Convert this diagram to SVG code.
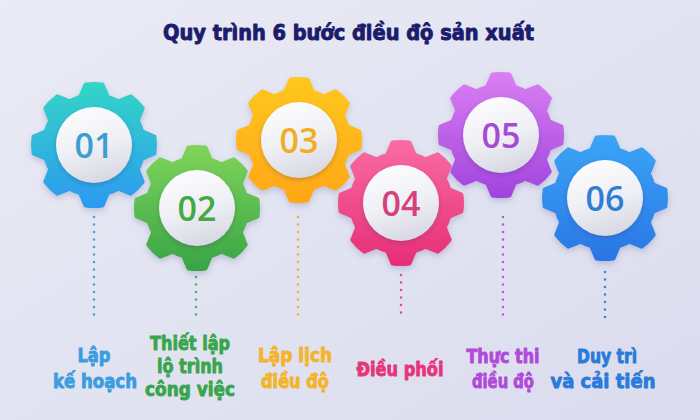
<svg xmlns="http://www.w3.org/2000/svg" xmlns:xlink="http://www.w3.org/1999/xlink" width="700" height="420" viewBox="0 0 700 420">
<defs>
<style>
.title{font-family:"DejaVu Sans Condensed","DejaVu Sans",sans-serif;font-weight:bold;font-size:22px;fill:#1c1c6c;stroke:#1c1c6c;stroke-width:0.9;stroke-linejoin:round}
.lbl{font-family:"DejaVu Sans Condensed","DejaVu Sans",sans-serif;font-weight:bold;font-size:19px;text-anchor:middle;stroke-width:0.8;stroke-linejoin:round}
.num{font-family:"Open Sans","Noto Sans",sans-serif;font-weight:600;font-size:34px;text-anchor:middle}
.dots{fill:none;stroke-width:2.6;stroke-linecap:round;stroke-dasharray:0 7.5}
.gear{stroke-width:4;stroke-linejoin:round;filter:url(#shadow)}
.hub{fill:url(#hubg);filter:url(#hubsh)}
</style>
<linearGradient id="bg" x1="0" y1="0" x2="1" y2="1">
<stop offset="0" stop-color="#eaebf5"/><stop offset="1" stop-color="#dadcee"/>
</linearGradient>
<linearGradient id="g1" x1="0" y1="0" x2="0" y2="1"><stop offset="0" stop-color="#33d5c6"/><stop offset="1" stop-color="#2c9af0"/></linearGradient>
<linearGradient id="g2" x1="0" y1="0" x2="0" y2="1"><stop offset="0" stop-color="#7fd45a"/><stop offset="1" stop-color="#38a545"/></linearGradient>
<linearGradient id="g3" x1="0" y1="0" x2="0" y2="1"><stop offset="0" stop-color="#ffc71d"/><stop offset="1" stop-color="#ffa718"/></linearGradient>
<linearGradient id="g4" x1="0" y1="0" x2="0" y2="1"><stop offset="0" stop-color="#f86ca2"/><stop offset="1" stop-color="#e72e77"/></linearGradient>
<linearGradient id="g5" x1="0" y1="0" x2="0" y2="1"><stop offset="0" stop-color="#d97ef2"/><stop offset="1" stop-color="#a244de"/></linearGradient>
<linearGradient id="g6" x1="0" y1="0" x2="0" y2="1"><stop offset="0" stop-color="#3aa5f6"/><stop offset="1" stop-color="#2a76e4"/></linearGradient>
<linearGradient id="hubg" x1="0.3" y1="0" x2="0.6" y2="1"><stop offset="0" stop-color="#fdfdfe"/><stop offset="0.55" stop-color="#eeeff4"/><stop offset="1" stop-color="#d6d7e2"/></linearGradient>
<filter id="shadow" x="-20%" y="-20%" width="140%" height="150%"><feDropShadow dx="0" dy="3" stdDeviation="3" flood-color="#6a6a9a" flood-opacity="0.3"/></filter>
<filter id="hubsh" x="-20%" y="-20%" width="140%" height="150%"><feDropShadow dx="0" dy="2" stdDeviation="2" flood-color="#303060" flood-opacity="0.25"/></filter>
<path id="gearShape" d="M-13.78,-48.07 L-8.49,-60.41 A61,61 0 0 1 8.49,-60.41 L13.78,-48.07 A50,50 0 0 1 24.24,-43.73 L36.71,-48.71 A61,61 0 0 1 48.71,-36.71 L43.73,-24.24 A50,50 0 0 1 48.07,-13.78 L60.41,-8.49 A61,61 0 0 1 60.41,8.49 L48.07,13.78 A50,50 0 0 1 43.73,24.24 L48.71,36.71 A61,61 0 0 1 36.71,48.71 L24.24,43.73 A50,50 0 0 1 13.78,48.07 L8.49,60.41 A61,61 0 0 1 -8.49,60.41 L-13.78,48.07 A50,50 0 0 1 -24.24,43.73 L-36.71,48.71 A61,61 0 0 1 -48.71,36.71 L-43.73,24.24 A50,50 0 0 1 -48.07,13.78 L-60.41,8.49 A61,61 0 0 1 -60.41,-8.49 L-48.07,-13.78 A50,50 0 0 1 -43.73,-24.24 L-48.71,-36.71 A61,61 0 0 1 -36.71,-48.71 L-24.24,-43.73 A50,50 0 0 1 -13.78,-48.07 Z"/>
</defs>
<rect width="700" height="420" fill="url(#bg)"/>
<text class="title" x="163" y="40" textLength="371" lengthAdjust="spacingAndGlyphs">Quy trình 6 bước điều độ sản xuất</text>

<g id="connectors">
<line class="dots" x1="94" y1="217" x2="94" y2="318" stroke="#4b9fd2"/>
<line class="dots" x1="196" y1="277" x2="196" y2="318" stroke="#5aa86a"/>
<line class="dots" x1="298" y1="217" x2="298" y2="318" stroke="#efb03c"/>
<line class="dots" x1="401" y1="275" x2="401" y2="318" stroke="#df4f8a"/>
<line class="dots" x1="503" y1="217" x2="503" y2="318" stroke="#b060d8"/>
<line class="dots" x1="605" y1="272" x2="605" y2="318" stroke="#3a80d8"/>
</g>

<g id="step1">
<use xlink:href="#gearShape" href="#gearShape" class="gear" transform="translate(94,145)" fill="url(#g1)" stroke="url(#g1)"/>
<circle class="hub" cx="94" cy="145" r="38"/>
<text class="num" x="94" y="158" fill="#3a9fd0">01</text>
<text class="lbl" fill="#3a9de0" stroke="#3a9de0"><tspan x="94" y="362" textLength="33" lengthAdjust="spacingAndGlyphs">Lập</tspan><tspan x="95" y="388" textLength="84" lengthAdjust="spacingAndGlyphs">kế hoạch</tspan></text>
</g>

<g id="step2">
<use xlink:href="#gearShape" href="#gearShape" class="gear" transform="translate(197,208)" fill="url(#g2)" stroke="url(#g2)"/>
<circle class="hub" cx="197" cy="208" r="38"/>
<text class="num" x="197" y="221" fill="#45a847">02</text>
<text class="lbl" fill="#3aa54c" stroke="#3aa54c"><tspan x="190" y="350" textLength="80" lengthAdjust="spacingAndGlyphs">Thiết lập</tspan><tspan x="190" y="373" textLength="66" lengthAdjust="spacingAndGlyphs">lộ trình</tspan><tspan x="190" y="396" textLength="90" lengthAdjust="spacingAndGlyphs">công việc</tspan></text>
</g>

<g id="step3">
<use xlink:href="#gearShape" href="#gearShape" class="gear" transform="translate(299,140)" fill="url(#g3)" stroke="url(#g3)"/>
<circle class="hub" cx="299" cy="140" r="38"/>
<text class="num" x="299" y="153" fill="#f0ae24">03</text>
<text class="lbl" fill="#f4b42a" stroke="#f4b42a"><tspan x="295" y="362" textLength="74" lengthAdjust="spacingAndGlyphs">Lập lịch</tspan><tspan x="295" y="388" textLength="68" lengthAdjust="spacingAndGlyphs">điều độ</tspan></text>
</g>

<g id="step4">
<use xlink:href="#gearShape" href="#gearShape" class="gear" transform="translate(401,203)" fill="url(#g4)" stroke="url(#g4)"/>
<circle class="hub" cx="401" cy="203" r="38"/>
<text class="num" x="401" y="216" fill="#d8407c">04</text>
<text class="lbl" fill="#e6357a" stroke="#e6357a"><tspan x="400" y="376" textLength="87" lengthAdjust="spacingAndGlyphs">Điều phối</tspan></text>
</g>

<g id="step5">
<use xlink:href="#gearShape" href="#gearShape" class="gear" transform="translate(501,135)" fill="url(#g5)" stroke="url(#g5)"/>
<circle class="hub" cx="501" cy="135" r="38"/>
<text class="num" x="501" y="148" fill="#a64ad2">05</text>
<text class="lbl" fill="#b04ad8" stroke="#b04ad8"><tspan x="503" y="363" textLength="73" lengthAdjust="spacingAndGlyphs">Thực thi</tspan><tspan x="503" y="388" textLength="62" lengthAdjust="spacingAndGlyphs">điều độ</tspan></text>
</g>

<g id="step6">
<use xlink:href="#gearShape" href="#gearShape" class="gear" transform="translate(605,198)" fill="url(#g6)" stroke="url(#g6)"/>
<circle class="hub" cx="605" cy="198" r="38"/>
<text class="num" x="605" y="211" fill="#2e7ed6">06</text>
<text class="lbl" fill="#2a7ad8" stroke="#2a7ad8"><tspan x="607" y="363" textLength="60" lengthAdjust="spacingAndGlyphs">Duy trì</tspan><tspan x="603" y="388" textLength="105" lengthAdjust="spacingAndGlyphs">và cải tiến</tspan></text>
</g>
</svg>
